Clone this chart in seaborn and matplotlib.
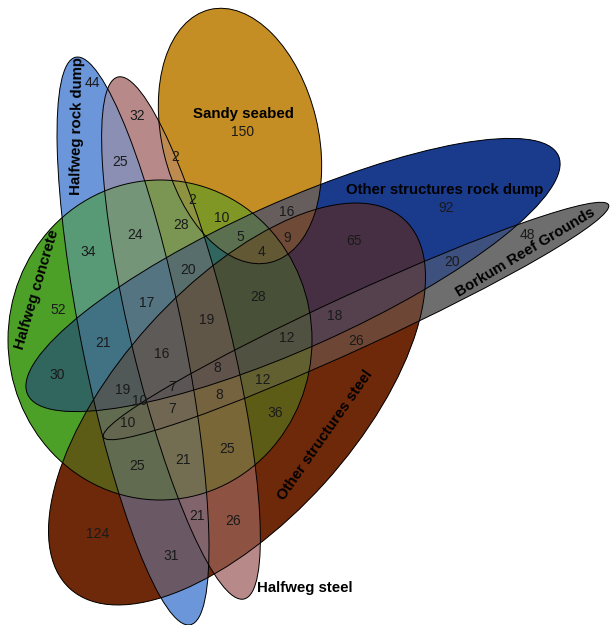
import matplotlib
matplotlib.use("Agg")
import matplotlib.pyplot as plt
import seaborn as sns
from matplotlib.patches import Ellipse

# sets (draw order)
set_names = ["Halfweg steel", "Halfweg rock dump", "Sandy seabed", "Halfweg concrete",
             "Borkum Reef Grounds", "Other structures rock dump", "Other structures steel"]
set_colors = ["#b88989", "#6b96d9", "#c48e24", "#4ca028", "#6e6e6e", "#1a3a8c", "#6e280a"]

# counts of each region of the diagram
region_counts = [44, 32, 25, 2, 2, 150, 10, 28, 24, 34, 52, 16, 5, 9, 4,
                 20, 17, 28, 19, 21, 16, 30, 12, 8, 19, 7, 10, 12, 8, 7,
                 10, 36, 65, 92, 18, 26, 20, 48, 25, 21, 25, 124, 21, 26, 31]

# ---- layout (pixel coordinates of the 611x625 canvas) ----
# ellipse geometry: centre x, centre y, width, height, angle
shapes = {
    "Halfweg steel": (181, 338, 537, 99, -103.6),
    "Halfweg rock dump": (133, 341, 579, 102, -101.4),
    "Sandy seabed": (240, 136, 260, 156, -103.5),
    "Halfweg concrete": (160, 340, 304, 320, 0),
    "Borkum Reef Grounds": (356, 321, 556, 54, -24.7),
    "Other structures rock dump": (293, 275, 582, 146, -24.2),
    "Other structures steel": (237, 404, 498, 236, -47.9),
}
region_xy = [(92, 83), (137, 116), (120, 162), (175, 157), (192, 200), (243, 132),
             (222, 218), (181, 225), (135, 235), (88, 252), (58, 310), (287, 212),
             (240, 237), (287, 238), (262, 252), (188, 270), (147, 303), (258, 297),
             (207, 320), (103, 343), (162, 354), (57, 375), (287, 338), (217, 368),
             (123, 390), (172, 387), (140, 401), (263, 380), (219, 395), (172, 409),
             (128, 423), (275, 413), (354, 241), (446, 208), (335, 316), (356, 341),
             (452, 262), (527, 235), (137, 466), (183, 460), (227, 449), (98, 534),
             (197, 516), (233, 521), (171, 556)]
set_label_pos = {
    "Halfweg rock dump": (77, 126, 89),
    "Halfweg concrete": (37, 290, 73.5),
    "Sandy seabed": (243, 114, 0),
    "Other structures rock dump": (445, 190, 0),
    "Borkum Reef Grounds": (525, 252, 31),
    "Other structures steel": (325, 435, 55),
    "Halfweg steel": (305, 588, 0),
}

sns.set_theme(style="white")
plt.rcParams["font.family"] = ["Liberation Sans", "DejaVu Sans"]

fig = plt.figure(figsize=(6.11, 6.25), dpi=100)
ax = fig.add_axes([0, 0, 1, 1])
ax.set_xlim(0, 611)
ax.set_ylim(625, 0)
ax.axis("off")


def make(name, **kw):
    cx, cy, w, h, ang = shapes[name]
    return Ellipse((cx, cy), w, h, angle=ang, **kw)


# opaque base, then two translucent passes so overlaps come out close to a mix
pairs = list(zip(set_names, set_colors))
for name, col in pairs:
    ax.add_patch(make(name, fc=col, ec="none", zorder=1))
for name, col in reversed(pairs):
    ax.add_patch(make(name, fc=col, ec="none", alpha=0.5, zorder=2))
for name, col in pairs:
    ax.add_patch(make(name, fc=col, ec="none", alpha=1 / 3, zorder=2))
for name in set_names:
    ax.add_patch(make(name, fc="none", ec="black", lw=0.7, zorder=3))

for n, (x, y) in zip(region_counts, region_xy):
    ax.text(x, y, str(n), fontsize=10, color="#1a1a1a", ha="center", va="center", zorder=4)

for name in set_names:
    x, y, rot = set_label_pos[name]
    ax.text(x, y, name, fontsize=10.8, fontweight="bold", color="black", ha="center",
            va="center", rotation=rot, rotation_mode="anchor", zorder=4)

fig.savefig("out.png", dpi=100)
